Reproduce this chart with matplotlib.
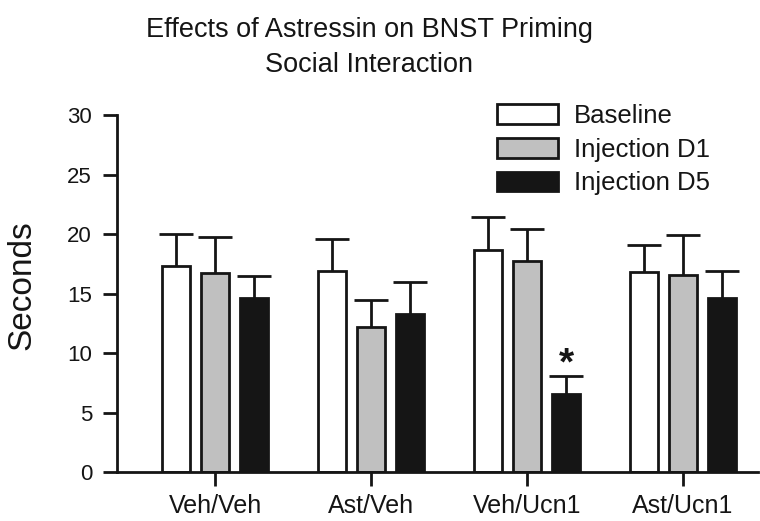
import numpy as np
import matplotlib.pyplot as plt
from matplotlib.patches import Patch

plt.rcParams['font.family'] = ['Liberation Sans', 'DejaVu Sans']

groups = ['Veh/Veh', 'Ast/Veh', 'Veh/Ucn1', 'Ast/Ucn1']
series = ['Baseline', 'Injection D1', 'Injection D5']
baseline = [17.3, 16.9, 18.7, 16.8]
inj_d1 = [16.7, 12.2, 17.7, 16.55]
inj_d5 = [14.6, 13.3, 6.55, 14.6]
baseline_err = [2.7, 2.7, 2.7, 2.3]
inj_d1_err = [3.05, 2.25, 2.7, 3.35]
inj_d5_err = [1.9, 2.65, 1.55, 2.3]

colors = ['white', '#c0c0c0', '#151515']
values = [baseline, inj_d1, inj_d5]
errors = [baseline_err, inj_d1_err, inj_d5_err]
ink = '#151515'

fig = plt.figure(figsize=(7.6, 5.21), dpi=100)
ax = fig.add_axes([0.154, 0.094, 0.843, 0.685])

x = np.arange(len(groups))
width = 0.18
offset = 0.25
cap = 0.11

for i, (vals, errs, col) in enumerate(zip(values, errors, colors)):
    pos = x + (i - 1) * offset
    vals = np.array(vals)
    tops = vals + np.array(errs)
    ax.bar(pos, vals, width, color=col, edgecolor=ink, linewidth=2, zorder=2)
    # upper-only error bars
    ax.vlines(pos, vals, tops, color=ink, linewidth=2, zorder=1)
    ax.hlines(tops, pos - cap, pos + cap, color=ink, linewidth=2, zorder=1)

# significance mark on Veh/Ucn1 D5
ax.text(x[2] + offset, inj_d5[2] + inj_d5_err[2] - 0.6, '*', ha='center', va='bottom',
        fontsize=28, fontweight='bold', color=ink)

ax.set_xlim(-0.63, 3.48)
ax.set_ylim(0, 30)
ax.set_yticks(range(0, 31, 5))
ax.set_xticks(x)
ax.set_xticklabels(groups, fontsize=18)
ax.tick_params(axis='both', width=2, length=10, color=ink, labelcolor=ink)
ax.tick_params(axis='y', labelsize=16, pad=8)
ax.tick_params(axis='x', pad=6)
for s in ['top', 'right']:
    ax.spines[s].set_visible(False)
for s in ['left', 'bottom']:
    ax.spines[s].set_linewidth(2)
    ax.spines[s].set_color(ink)

ax.set_ylabel('Seconds', fontsize=24, color=ink)
ax.yaxis.set_label_coords(-0.125, 0.525)
fig.suptitle('Effects of Astressin on BNST Priming\nSocial Interaction', fontsize=19.5,
             x=0.486, y=0.968, linespacing=1.45, color=ink)

handles = [Patch(facecolor=c, edgecolor=ink, linewidth=2) for c in colors]
fig.legend(handles, series, loc='upper left', bbox_to_anchor=(0.623, 0.845),
           frameon=False, fontsize=18.5, handlelength=2.4, handleheight=0.8,
           handletextpad=0.6, labelspacing=0.38, labelcolor=ink)

fig.savefig('out.png', dpi=100)
